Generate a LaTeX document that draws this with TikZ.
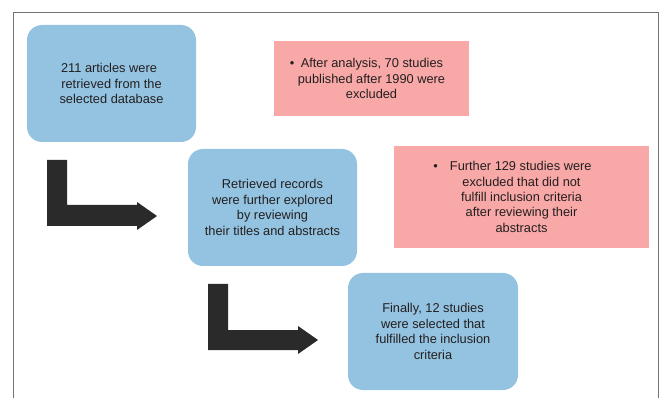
\documentclass[tikz,border=0pt]{standalone}
\usepackage{fontspec}
\setmainfont{Liberation Sans}
\definecolor{boxblue}{HTML}{93C3E0}
\definecolor{boxpink}{HTML}{F8A8A6}
\definecolor{arrowgray}{HTML}{2B2A2B}
\definecolor{textgray}{HTML}{231F20}
\tikzset{
	bluebox/.style={shape=rectangle, rounded corners=15pt, fill=boxblue,
		text=textgray, align=center, inner sep=0pt,
		font=\fontsize{12.8}{15.4}\selectfont},
	pinkbox/.style={shape=rectangle, fill=boxpink,
		text=textgray, align=center, inner sep=0pt,
		font=\fontsize{12.8}{15.4}\selectfont},
	bentarrow/.style={fill=arrowgray}
}
\begin{document}
\begin{tikzpicture}[x=1pt, y=-1pt]
	\useasboundingbox (0,0) rectangle (659,398);
	\draw [draw=gray!90!black, line width=0.8pt] (13,398) -- (13,12) -- (658,12) -- (658,398);

	\draw (111.5,83.5) node[bluebox, minimum width=169pt, minimum height=117pt](found)
		{211 articles were\hspace*{5pt}\\ retrieved from the\\ selected database};
	\draw (371.5,78.5) node[pinkbox, minimum width=195pt, minimum height=75pt](excl1)
		{\textbullet\enspace After analysis, 70 studies\hspace*{10pt}\\ published after 1990 were\\ excluded};

	\draw (272.5,207.5) node[bluebox, minimum width=169pt, minimum height=117pt](screen)
		{Retrieved records\\ were further explored\\ by reviewing\\ their titles and abstracts};
	\draw (521.5,197) node[pinkbox, minimum width=255pt, minimum height=102pt](excl2)
		{\textbullet\hspace{12pt}Further 129 studies were\hspace*{18pt}\\ excluded that did not\\ fulfill inclusion criteria\\ after reviewing their\\ abstracts};

	\draw (433,331.5) node[bluebox, minimum width=170pt, minimum height=117pt](final)
		{Finally, 12 studies\\ were selected that\\ fulfilled the inclusion\\ criteria};

	% bent arrows
	\fill [bentarrow] (47,160) -- ++(20,0) -- ++(0,45) -- ++(70,0) -- ++(0,-3)
		-- ++(20,14) -- ++(-20,14) -- ++(0,-4) -- ++(-90,0) -- cycle;
	\fill [bentarrow] (208,284) -- ++(20,0) -- ++(0,46) -- ++(70,0) -- ++(0,-4)
		-- ++(20,14) -- ++(-20,14) -- ++(0,-4) -- ++(-90,0) -- cycle;
\end{tikzpicture}
\end{document}
